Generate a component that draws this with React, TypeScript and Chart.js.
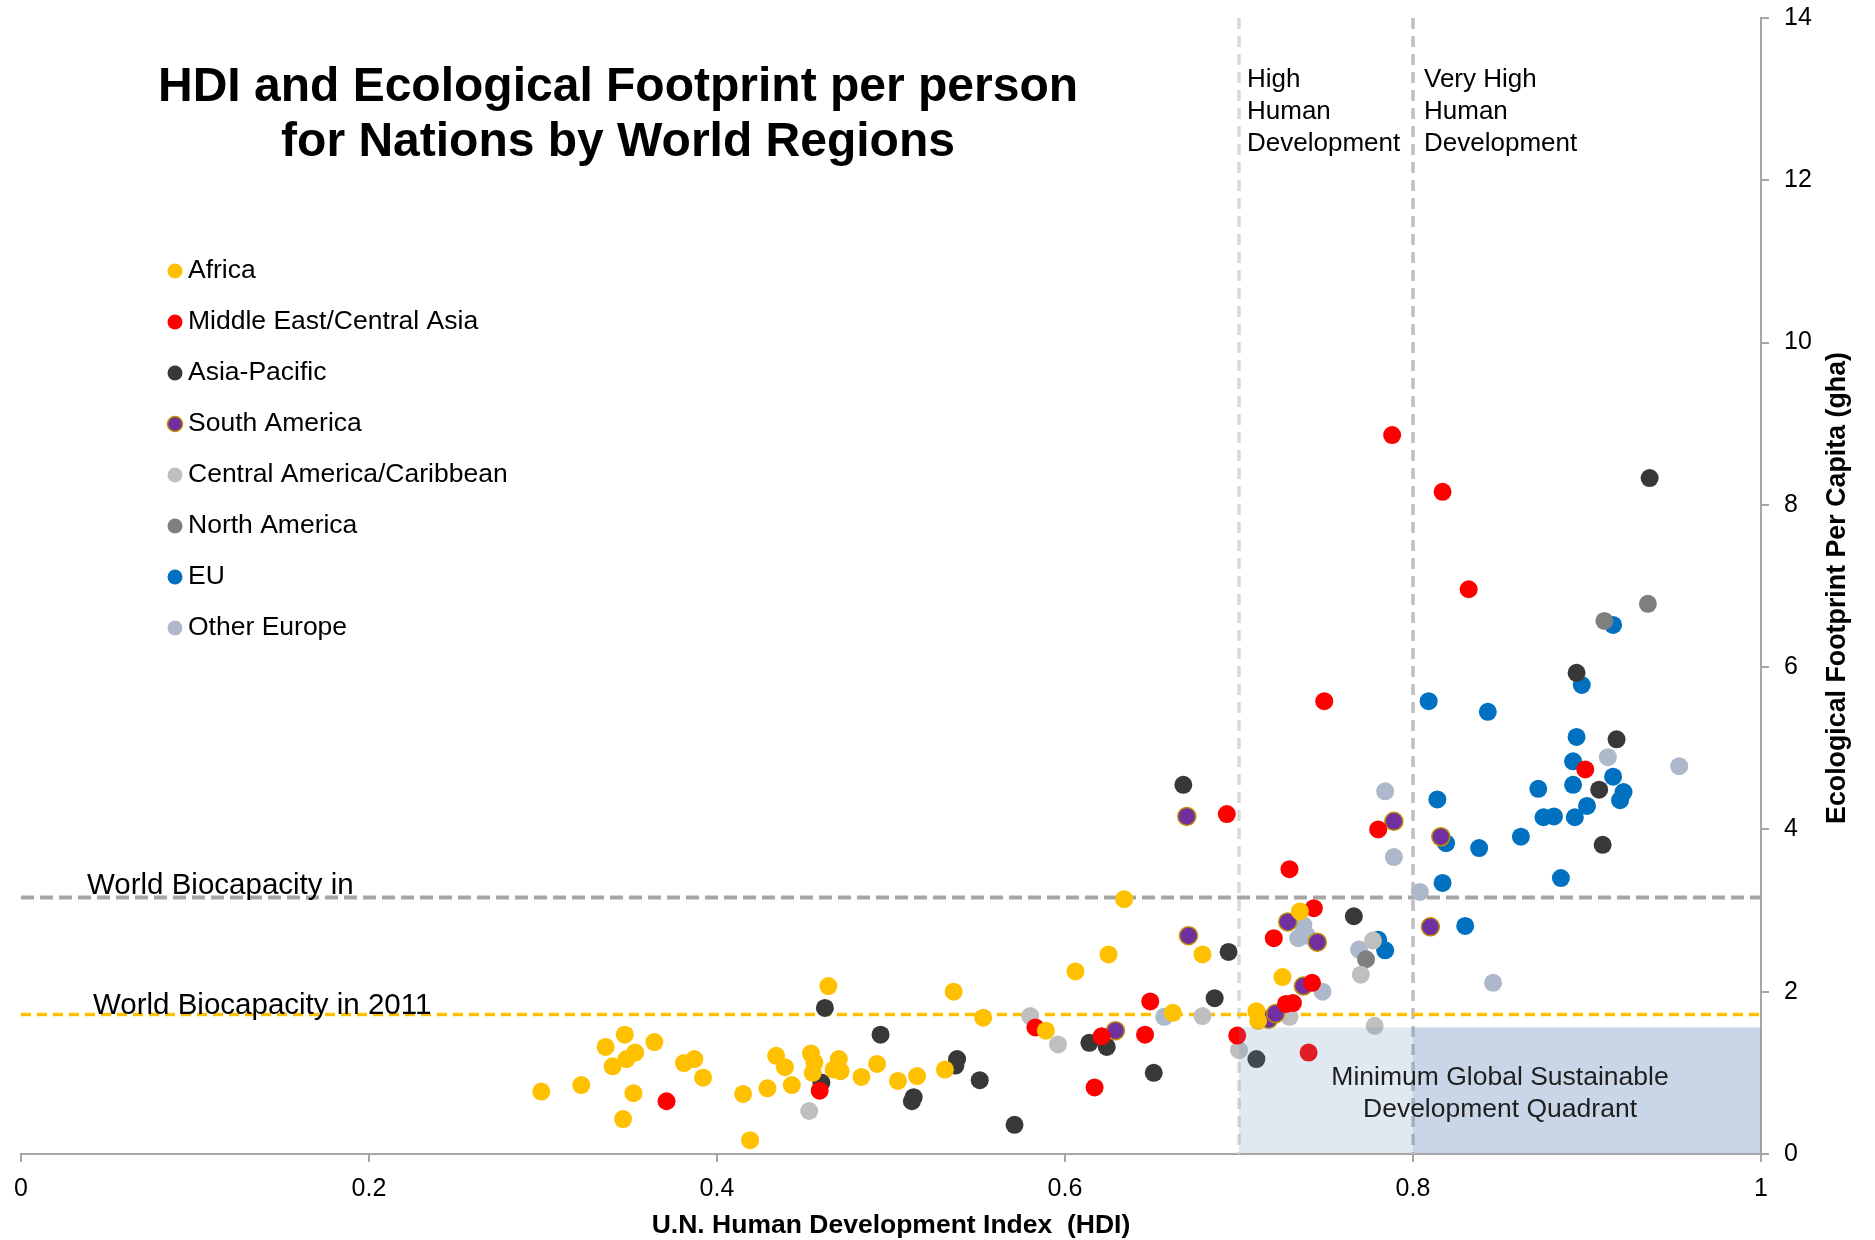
import React, { useEffect, useRef } from 'react';
import { Chart, registerables } from 'chart.js';

Chart.register(...registerables);

// ---------- data ----------
const africaHDI = [0.299, 0.322, 0.336, 0.347, 0.340, 0.348, 0.353, 0.364, 0.352, 0.346, 0.381, 0.387, 0.392, 0.415, 0.419, 0.429, 0.434, 0.439, 0.443, 0.464, 0.454, 0.456, 0.455, 0.470, 0.467, 0.471, 0.483, 0.492, 0.504, 0.515, 0.536, 0.531, 0.553, 0.589, 0.606, 0.625, 0.634, 0.662, 0.679, 0.710, 0.711, 0.725, 0.735];
const africaEF = [0.77, 0.85, 1.32, 1.47, 1.08, 1.17, 1.25, 1.38, 0.75, 0.43, 1.12, 1.17, 0.94, 0.74, 0.17, 0.81, 1.21, 1.07, 0.85, 2.07, 1.24, 1.13, 1.00, 1.17, 1.04, 1.02, 0.95, 1.11, 0.90, 0.96, 2.00, 1.04, 1.68, 1.52, 2.25, 2.46, 3.14, 1.74, 2.46, 1.76, 1.64, 2.18, 2.99];

const meHDI = [0.371, 0.459, 0.583, 0.617, 0.621, 0.646, 0.649, 0.699, 0.693, 0.720, 0.727, 0.731, 0.729, 0.742, 0.743, 0.740, 0.749, 0.780, 0.788, 0.817, 0.832, 0.899];
const meEF = [0.65, 0.78, 1.56, 0.82, 1.45, 1.47, 1.88, 1.46, 4.19, 2.66, 1.85, 1.86, 3.51, 2.11, 3.03, 1.25, 5.58, 4.00, 8.86, 8.16, 6.96, 4.74];

const apHDI = [0.462, 0.460, 0.494, 0.512, 0.513, 0.538, 0.537, 0.551, 0.571, 0.614, 0.624, 0.651, 0.686, 0.694, 0.668, 0.710, 0.766, 0.894, 0.917, 0.907, 0.909, 0.936];
const apEF = [1.80, 0.88, 1.47, 0.65, 0.70, 1.17, 1.09, 0.91, 0.36, 1.37, 1.32, 1.00, 1.92, 2.49, 4.55, 1.17, 2.93, 5.93, 5.11, 4.49, 3.81, 8.33];

const saHDI = [0.629, 0.671, 0.670, 0.717, 0.721, 0.728, 0.737, 0.745, 0.789, 0.816, 0.810];
const saEF = [1.52, 2.69, 4.16, 1.66, 1.73, 2.86, 2.07, 2.61, 4.10, 3.91, 2.80];

const camHDI = [0.453, 0.580, 0.596, 0.679, 0.700, 0.729, 0.777, 0.770, 0.778];
const camEF = [0.53, 1.70, 1.35, 1.70, 1.28, 1.69, 2.63, 2.21, 1.58];

const naHDI = [0.773, 0.910, 0.935];
const naEF = [2.40, 6.57, 6.78];

const euHDI = [0.780, 0.784, 0.809, 0.843, 0.814, 0.819, 0.817, 0.830, 0.838, 0.862, 0.885, 0.872, 0.875, 0.881, 0.893, 0.900, 0.892, 0.892, 0.894, 0.897, 0.915, 0.921, 0.919, 0.915];
const euEF = [2.64, 2.51, 5.58, 5.45, 4.37, 3.83, 3.34, 2.81, 3.77, 3.91, 3.40, 4.50, 4.15, 4.16, 4.15, 4.29, 4.55, 4.84, 5.14, 5.78, 4.65, 4.46, 4.36, 6.52];

const oeHDI = [0.657, 0.737, 0.734, 0.739, 0.748, 0.769, 0.784, 0.789, 0.804, 0.846, 0.912, 0.953];
const oeEF = [1.69, 2.82, 2.66, 2.69, 2.00, 2.52, 4.47, 3.66, 3.23, 2.11, 4.89, 4.78];

const regionNames = ['Africa', 'Middle East/Central Asia', 'Asia-Pacific', 'South America', 'Central America/Caribbean', 'North America', 'EU', 'Other Europe'];
const regionColors = ['#FFC000', '#FF0000', '#383838', '#7030A0', '#BFBFBF', '#7F7F7F', '#0070C0', '#ADB9CA'];
const regionBorders = ['#FFC000', '#FF0000', '#383838', '#BF9000', '#BFBFBF', '#7F7F7F', '#0070C0', '#ADB9CA'];

const xTicks = [0, 0.2, 0.4, 0.6, 0.8, 1];
const yTicks = [0, 2, 4, 6, 8, 10, 12, 14];

const biocap1961 = 3.16;
const biocap2011 = 1.72;
const highHDI = 0.7;
const veryHighHDI = 0.8;
const quadrantTop = 1.56;

const titleLines = ['HDI and Ecological Footprint per person', 'for Nations by World Regions'];
const xTitle = 'U.N. Human Development Index  (HDI)';
const yTitle = 'Ecological Footprint Per Capita (gha)';

const FONT = '"Liberation Sans", Arial, Helvetica, sans-serif';

const pairs = (xs: number[], ys: number[]) => xs.map((v, i) => ({ x: v, y: ys[i] }));

const overlayPlugin = {
  id: 'overlay',
  beforeDatasetsDraw(chart: any) {
    const { ctx, chartArea: a, scales } = chart;
    const x = scales.x;
    const y = scales.y;
    ctx.save();
    ctx.beginPath();
    ctx.rect(a.left, a.top, a.right - a.left, a.bottom - a.top);
    ctx.clip();
    const vline = (v: number, color: string, w: number, dash: number[]) => {
      const px = x.getPixelForValue(v);
      ctx.beginPath();
      ctx.setLineDash(dash);
      ctx.strokeStyle = color;
      ctx.lineWidth = w;
      ctx.moveTo(px, a.top);
      ctx.lineTo(px, a.bottom);
      ctx.stroke();
    };
    const hline = (v: number, color: string, w: number, dash: number[]) => {
      const py = y.getPixelForValue(v);
      ctx.beginPath();
      ctx.setLineDash(dash);
      ctx.strokeStyle = color;
      ctx.lineWidth = w;
      ctx.moveTo(a.left, py);
      ctx.lineTo(a.right, py);
      ctx.stroke();
    };
    vline(highHDI, '#D9D9D9', 3.5, [11, 7]);
    vline(veryHighHDI, '#BFBFBF', 3.5, [11, 7]);
    hline(biocap1961, '#A6A6A6', 4, [13, 6]);
    hline(biocap2011, '#FFC000', 3.5, [10, 6]);
    ctx.restore();
  },
  afterDatasetsDraw(chart: any) {
    const { ctx, chartArea: a, scales } = chart;
    const x = scales.x;
    const y = scales.y;
    const x0 = x.getPixelForValue(highHDI);
    const x1 = x.getPixelForValue(veryHighHDI);
    const x2 = x.getPixelForValue(1);
    const yt = y.getPixelForValue(quadrantTop);
    const yb = a.bottom - 1;
    ctx.save();
    ctx.fillStyle = 'rgba(102,138,184,0.2)';
    ctx.fillRect(x0, yt, x2 - x0, yb - yt);
    ctx.fillStyle = 'rgba(102,138,184,0.19)';
    ctx.fillRect(x1, yt, x2 - x1, yb - yt);
    ctx.fillStyle = '#1F1F1F';
    ctx.font = `26.5px ${FONT}`;
    ctx.textAlign = 'center';
    ctx.textBaseline = 'middle';
    const cx = (x0 + x2) / 2;
    ctx.fillText('Minimum Global Sustainable', cx, 1078);
    ctx.fillText('Development Quadrant', cx, 1110);
    ctx.restore();
  },
  afterDraw(chart: any) {
    const { ctx, chartArea: a, scales } = chart;
    const x = scales.x;
    const y = scales.y;
    ctx.save();
    // title
    ctx.fillStyle = '#000000';
    ctx.font = `bold 48px ${FONT}`;
    ctx.textAlign = 'center';
    ctx.textBaseline = 'middle';
    ctx.fillText(titleLines[0], 618, 88);
    ctx.fillText(titleLines[1], 618, 143);

    // HDI band labels
    ctx.font = `26px ${FONT}`;
    ctx.textAlign = 'left';
    const hx = x.getPixelForValue(highHDI) + 8;
    const vx = x.getPixelForValue(veryHighHDI) + 11;
    const rows = [80, 112, 144];
    ['High', 'Human', 'Development'].forEach((t, i) => ctx.fillText(t, hx, rows[i]));
    ['Very High', 'Human', 'Development'].forEach((t, i) => ctx.fillText(t, vx, rows[i]));

    // biocapacity labels
    ctx.font = `29.5px ${FONT}`;
    ctx.textBaseline = 'alphabetic';
    ctx.fillText('World Biocapacity in', a.left + 66, y.getPixelForValue(biocap1961) - 4);
    ctx.fillText('World Biocapacity in 2011', a.left + 72, y.getPixelForValue(biocap2011));

    // legend
    ctx.textBaseline = 'middle';
    ctx.font = `26.5px ${FONT}`;
    regionNames.forEach((name, i) => {
      const ly = 271 + i * 51;
      ctx.beginPath();
      ctx.arc(175, ly, 7.5, 0, Math.PI * 2);
      ctx.fillStyle = regionColors[i];
      ctx.fill();
      if (regionBorders[i] !== regionColors[i]) {
        ctx.lineWidth = 1.5;
        ctx.strokeStyle = regionBorders[i];
        ctx.stroke();
      }
      ctx.fillStyle = '#000000';
      ctx.fillText(name, 188, ly);
    });

    // y-axis title (reads bottom to top)
    ctx.save();
    ctx.translate(1845, 588);
    ctx.rotate(-Math.PI / 2);
    ctx.font = `bold 26.8px ${FONT}`;
    ctx.textAlign = 'center';
    ctx.textBaseline = 'alphabetic';
    ctx.fillStyle = '#000000';
    ctx.fillText(yTitle, 0, 0);
    ctx.restore();

    ctx.restore();
  },
};

export default function App() {
  const ref = useRef<HTMLCanvasElement | null>(null);

  useEffect(() => {
    if (!ref.current) return;
    const series = [
      pairs(africaHDI, africaEF),
      pairs(meHDI, meEF),
      pairs(apHDI, apEF),
      pairs(saHDI, saEF),
      pairs(camHDI, camEF),
      pairs(naHDI, naEF),
      pairs(euHDI, euEF),
      pairs(oeHDI, oeEF),
    ];
    const chart = new Chart(ref.current, {
      type: 'scatter',
      data: {
        datasets: series.map((d, i) => ({
          label: regionNames[i],
          data: d,
          backgroundColor: regionColors[i],
          borderColor: regionBorders[i],
          borderWidth: regionBorders[i] !== regionColors[i] ? 1.5 : 0,
          pointRadius: 9,
          pointHoverRadius: 9,
        })),
      },
      options: {
        responsive: false,
        animation: false,
        events: [],
        layout: { padding: { left: 21, top: 18, right: 0, bottom: 0 } },
        plugins: {
          legend: { display: false },
          tooltip: { enabled: false },
          title: { display: false },
        },
        scales: {
          x: {
            type: 'linear',
            min: 0,
            max: 1,
            afterFit: (s: any) => {
              s.height = 86;
              s.paddingLeft = 0;
              s.paddingRight = 0;
              s.paddingTop = 0;
              s.paddingBottom = 0;
            },
            afterBuildTicks: (s: any) => { s.ticks = xTicks.map((v) => ({ value: v })); },
            ticks: {
              color: '#000000',
              font: { family: FONT, size: 25 },
              padding: 12,
              callback: (v: any) => String(Math.round(Number(v) * 10) / 10),
            },
            grid: { drawOnChartArea: false, drawTicks: true, tickLength: 8, color: '#A6A6A6', lineWidth: 2 },
            border: { display: true, color: '#A6A6A6', width: 2 },
            title: {
              display: true,
              text: xTitle,
              color: '#000000',
              font: { family: FONT, size: 26.5, weight: 'bold', lineHeight: 1.1 },
              padding: { top: 0, bottom: 0 },
            },
          },
          y: {
            type: 'linear',
            position: 'right',
            min: 0,
            max: 14,
            afterFit: (s: any) => {
              s.width = 114;
              s.paddingLeft = 0;
              s.paddingRight = 0;
              s.paddingTop = 0;
              s.paddingBottom = 0;
            },
            afterBuildTicks: (s: any) => { s.ticks = yTicks.map((v) => ({ value: v })); },
            ticks: {
              color: '#000000',
              font: { family: FONT, size: 25 },
              padding: 15,
            },
            grid: { drawOnChartArea: false, drawTicks: true, tickLength: 8, color: '#A6A6A6', lineWidth: 2 },
            border: { display: true, color: '#A6A6A6', width: 2 },
          },
        },
      },
      plugins: [overlayPlugin],
    } as any);
    return () => chart.destroy();
  }, []);

  return (
    <div style={{ position: 'absolute', left: 0, top: 0, width: 1875, height: 1240, background: '#ffffff' }}>
      <canvas ref={ref} width={1875} height={1240} style={{ width: 1875, height: 1240, display: 'block' }} />
    </div>
  );
}
